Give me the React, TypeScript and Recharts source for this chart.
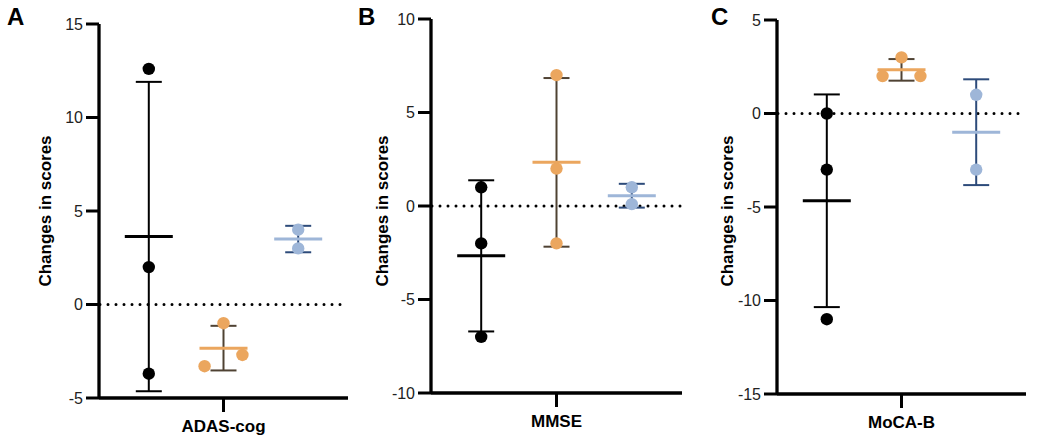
import React from 'react';
import { ScatterChart, Scatter, XAxis, YAxis, ErrorBar, ReferenceLine } from 'recharts';

// ---- data ----
const panelLetters = ['A', 'B', 'C'];
const categoryLabels = ['ADAS-cog', 'MMSE', 'MoCA-B'];
const yLabel = 'Changes in scores';

const adasBlack = [12.6, 2, -3.7];
const adasOrange = [-1, -3.3, -2.7];
const adasBlue = [4, 3];

const mmseBlack = [1, -2, -7];
const mmseOrange = [7, 2, -2];
const mmseBlue = [1, 0.1];

const mocaBlack = [0, -3, -11];
const mocaOrange = [3, 2, 2];
const mocaBlue = [1, -3];

const adasTicks = [-5, 0, 5, 10, 15];
const mmseTicks = [-10, -5, 0, 5, 10];
const mocaTicks = [-15, -10, -5, 0, 5];

// ---- styles ----
const FONT = "'Liberation Sans', Arial, Helvetica, sans-serif";
const dotColors = ['#000000', '#EBA65E', '#9EB6D8'];
const meanColors = ['#000000', '#EBA65E', '#9EB6D8'];
const errColors = ['#000000', '#4F4233', '#2D4B7A'];
const groupX = [0.2, 0.5, 0.8];

const layouts = [
  { left: 0, width: 360, top: 24, bottom: 0, right: 12, yw: 99, letterLeft: 7, labelX: 45 },
  { left: 340, width: 350, top: 19, bottom: 5, right: 8, yw: 91, letterLeft: 358, labelX: 382 },
  { left: 690, width: 351, top: 20, bottom: 4, right: 15, yw: 87, letterLeft: 711, labelX: 727 },
];

const panels = [
  { groups: [adasBlack, adasOrange, adasBlue], ticks: adasTicks },
  { groups: [mmseBlack, mmseOrange, mmseBlue], ticks: mmseTicks },
  { groups: [mocaBlack, mocaOrange, mocaBlue], ticks: mocaTicks },
];

function spread(values: number[], center: number) {
  const threshold = 0.75;
  const offset = 0.076;
  return values.map((v, i) => {
    const j = values.findIndex((w, k) => k !== i && Math.abs(w - v) < threshold);
    if (j < 0) return { x: center, y: v };
    const left = v < values[j] || (v === values[j] && i < j);
    return { x: center + (left ? -offset : offset), y: v };
  });
}

function stats(values: number[]) {
  const n = values.length;
  const mean = values.reduce((a, b) => a + b, 0) / n;
  const sd = Math.sqrt(values.reduce((a, b) => a + (b - mean) * (b - mean), 0) / (n - 1));
  return { mean, sd };
}

const Panel = ({ idx }: { idx: number }) => {
  const L = layouts[idx];
  const P = panels[idx];
  const ticks = P.ticks;
  return (
    <div style={{ position: 'absolute', left: L.left, top: 0, width: L.width, height: 443 }}>
      <ScatterChart
        width={L.width}
        height={443}
        margin={{ top: L.top, bottom: L.bottom, left: 0, right: L.right }}
        style={{ fontFamily: FONT }}
      >
        <XAxis
          type="number"
          dataKey="x"
          domain={[0, 1]}
          ticks={[0.5]}
          tickFormatter={() => categoryLabels[idx]}
          allowDataOverflow
          height={45}
          axisLine={{ stroke: '#000', strokeWidth: 3.3 }}
          tickLine={{ stroke: '#000', strokeWidth: 3 }}
          tickSize={14}
          tickMargin={8}
          tick={{ fontSize: 17, fontWeight: 700, fill: '#000', fontFamily: FONT }}
        />
        <YAxis
          type="number"
          dataKey="y"
          domain={[ticks[0], ticks[ticks.length - 1]]}
          ticks={ticks}
          interval={0}
          allowDataOverflow
          width={L.yw}
          axisLine={{ stroke: '#000', strokeWidth: 3.3 }}
          tickLine={{ stroke: '#000', strokeWidth: 3 }}
          tickSize={13}
          tickMargin={3}
          tick={{ fontSize: 16, fill: '#222', fontFamily: FONT }}
        />
        <ReferenceLine
          y={0}
          stroke="#000"
          strokeWidth={3}
          strokeDasharray="0 8"
          strokeLinecap="round"
          strokeDashoffset={-1}
        />
        {P.groups.map((vals, g) => {
          const s = stats(vals);
          return (
            <Scatter
              key={'err' + g}
              data={[{ x: groupX[g], y: s.mean, sd: s.sd }]}
              isAnimationActive={false}
              shape={() => <g />}
            >
              <ErrorBar
                dataKey="sd"
                direction="y"
                width={13}
                stroke={errColors[g]}
                strokeWidth={2}
                isAnimationActive={false}
              />
            </Scatter>
          );
        })}
        {P.groups.map((vals, g) => (
          <Scatter
            key={'dots' + g}
            data={spread(vals, groupX[g])}
            isAnimationActive={false}
            shape={(p: any) => <circle cx={p.cx} cy={p.cy} r={6.2} fill={dotColors[g]} />}
          />
        ))}
        {P.groups.map((vals, g) => {
          const s = stats(vals);
          return (
            <Scatter
              key={'mean' + g}
              data={[{ x: groupX[g], y: s.mean }]}
              isAnimationActive={false}
              shape={(p: any) => (
                <line x1={p.cx - 24} x2={p.cx + 24} y1={p.cy} y2={p.cy} stroke={meanColors[g]} strokeWidth={3} />
              )}
            />
          );
        })}
      </ScatterChart>
    </div>
  );
};

export default function App() {
  return (
    <div style={{ position: 'absolute', left: 0, top: 0, width: 1041, height: 443, background: '#fff', fontFamily: FONT }}>
      {[0, 1, 2].map((i) => (
        <Panel key={i} idx={i} />
      ))}
      {[0, 1, 2].map((i) => (
        <div
          key={'letter' + i}
          style={{
            position: 'absolute',
            left: layouts[i].letterLeft,
            top: 5,
            fontSize: 24,
            lineHeight: '24px',
            fontWeight: 700,
            color: '#000',
          }}
        >
          {panelLetters[i]}
        </div>
      ))}
      {[0, 1, 2].map((i) => (
        <div
          key={'ylab' + i}
          style={{
            position: 'absolute',
            left: layouts[i].labelX,
            top: 211,
            transform: 'translate(-50%, -50%) rotate(-90deg)',
            whiteSpace: 'nowrap',
            fontSize: 17,
            lineHeight: '17px',
            fontWeight: 700,
            color: '#000',
          }}
        >
          {yLabel}
        </div>
      ))}
    </div>
  );
}
